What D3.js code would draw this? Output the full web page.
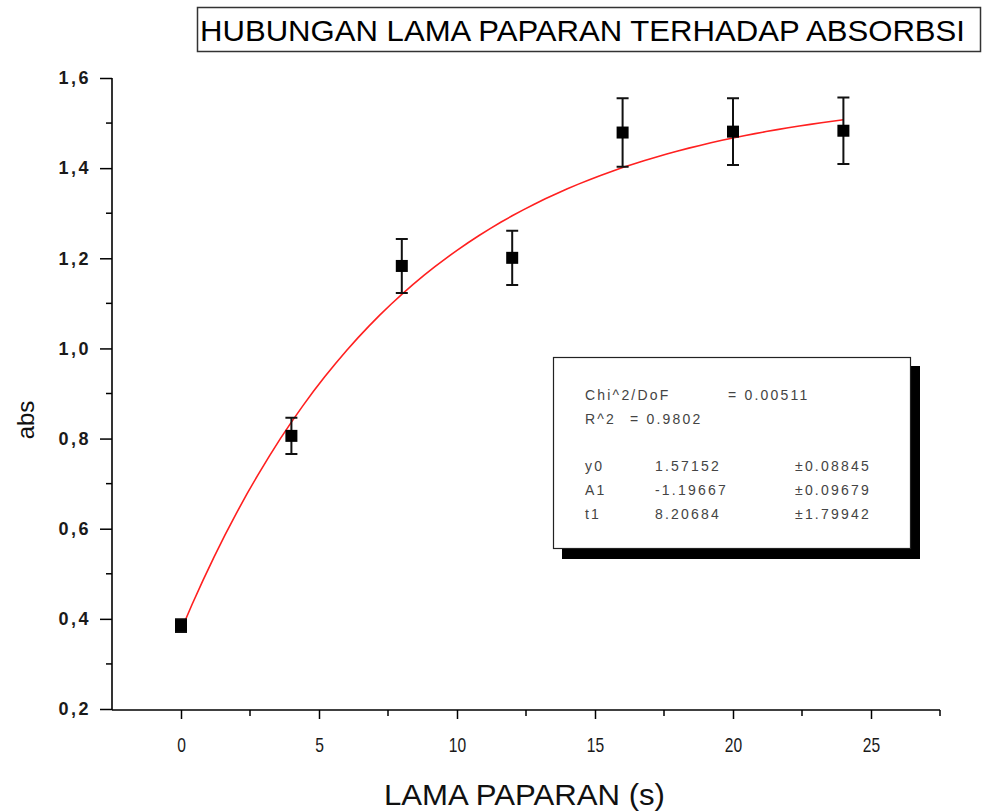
<!DOCTYPE html>
<html><head><meta charset="utf-8">
<script src="https://cdn.jsdelivr.net/npm/d3@7/dist/d3.min.js"></script>
<style>body{margin:0;background:#fff}svg{display:block}</style>
</head><body>
<svg id="c" width="985" height="811"></svg>
<script>
const times = [0, 4, 8, 12, 16, 20, 24];
const absValues = [0.385, 0.806, 1.183, 1.201, 1.479, 1.481, 1.483];
const errValues = [0.014, 0.040, 0.060, 0.060, 0.076, 0.074, 0.074];
const xTicks = [0, 5, 10, 15, 20, 25];
const yTicks = [0.2, 0.4, 0.6, 0.8, 1.0, 1.2, 1.4, 1.6];
const fitParams = {y0: 1.57152, A1: -1.19667, t1: 8.20684};
const statLines = [
  ["Chi^2/DoF", "= 0.00511", ""],
  ["R^2", "=  0.9802", ""],
  ["y0", "1.57152", "\u00b10.08845"],
  ["A1", "-1.19667", "\u00b10.09679"],
  ["t1", "8.20684", "\u00b11.79942"]
];

const FONT = "Liberation Sans, Arial, sans-serif";
const svg = d3.select("#c");
const x = d3.scaleLinear().domain([-2.5, 27.5]).range([112, 940]);
const y = d3.scaleLinear().domain([0.2, 1.6]).range([709, 78]);
const fmt = d => d3.format(".1f")(d).replace(".", ",");

// title box
svg.append("rect").attr("x", 197.5).attr("y", 7.5).attr("width", 783).attr("height", 44)
  .attr("fill", "#fff").attr("stroke", "#333").attr("stroke-width", 1.5);
svg.append("text").attr("x", 200).attr("y", 41).attr("font-family", FONT)
  .attr("font-size", 30).attr("fill", "#000").attr("textLength", 765).attr("lengthAdjust", "spacingAndGlyphs")
  .text("HUBUNGAN LAMA PAPARAN TERHADAP ABSORBSI");

// axes
const xAxis = d3.axisBottom(x).tickValues(xTicks).tickSize(9).tickPadding(19).tickFormat(d3.format("d"));
const gx = svg.append("g").attr("transform", "translate(0,710)").call(xAxis);
gx.select(".domain").attr("d", "M112,0H940").attr("stroke-width", 1.6);
gx.selectAll(".tick line").attr("stroke-width", 1.5);
gx.selectAll("text").attr("font-family", FONT).attr("font-size", 20).attr("fill", "#1a1a1a")
  .attr("transform", "scale(0.78,1)");
const xMinor = d3.range(-2.5, 27.6, 5).filter(v => v > -2.5);
gx.selectAll(".minor").data(xMinor).join("line").attr("x1", d => x(d)).attr("x2", d => x(d))
  .attr("y1", 0).attr("y2", 6).attr("stroke", "#000").attr("stroke-width", 1.5);

const yAxis = d3.axisLeft(y).tickValues(yTicks).tickSize(12).tickPadding(9).tickFormat(fmt);
const gy = svg.append("g").attr("transform", "translate(112,0)").call(yAxis);
gy.select(".domain").attr("d", "M0,78V710").attr("stroke-width", 1.6);
gy.selectAll(".tick line").attr("stroke-width", 1.5);
gy.selectAll("text").attr("font-family", FONT).attr("font-size", 18).attr("fill", "#1a1a1a")
  .attr("letter-spacing", 2.5).attr("font-weight", 600);
const yMinor = d3.range(0.3, 1.6, 0.2);
gy.selectAll(".minor").data(yMinor).join("line").attr("y1", d => y(d)).attr("y2", d => y(d))
  .attr("x1", 0).attr("x2", -6).attr("stroke", "#000").attr("stroke-width", 1.5);

// axis titles
svg.append("text").attr("x", 384).attr("y", 805)
  .attr("font-family", FONT).attr("font-size", 29).attr("fill", "#111")
  .attr("textLength", 281).attr("lengthAdjust", "spacingAndGlyphs")
  .text("LAMA PAPARAN (s)");
svg.append("text").attr("transform", "translate(34,420) rotate(-90)").attr("text-anchor", "middle")
  .attr("font-family", FONT).attr("font-size", 24).attr("fill", "#111")
  .text("abs");

// fit curve
const fitX = d3.range(0, 24.001, 0.4);
const line = d3.line().x(d => x(d)).y(d => y(fitParams.y0 + fitParams.A1 * Math.exp(-d / fitParams.t1)));
svg.append("path").datum(fitX).attr("d", line).attr("fill", "none").attr("stroke", "#ff2020").attr("stroke-width", 1.6);

// error bars and points
const pts = times.map((t, i) => ({t, v: absValues[i], e: errValues[i]}));
const g = svg.append("g");
g.selectAll(".eb").data(pts).join("path")
  .attr("d", d => {
    const cx = x(d.t), y1 = y(d.v + d.e), y2 = y(d.v - d.e);
    return `M${cx - 6},${y1}H${cx + 6}M${cx},${y1}V${y2}M${cx - 6},${y2}H${cx + 6}`;
  })
  .attr("stroke", "#111").attr("stroke-width", 2).attr("fill", "none");
g.selectAll(".pt").data(pts).join("rect")
  .attr("x", d => x(d.t) - 6).attr("y", d => y(d.v) - 6).attr("width", 12).attr("height", 12).attr("fill", "#000");

// stats box
svg.append("rect").attr("x", 562).attr("y", 366).attr("width", 358).attr("height", 193).attr("fill", "#000");
svg.append("rect").attr("x", 553.5).attr("y", 357.5).attr("width", 357).attr("height", 191)
  .attr("fill", "#fff").attr("stroke", "#222").attr("stroke-width", 1.2);
const rowY = [400, 424, 471, 495, 519];
const colX = [585, 655, 795];
statLines.forEach((r, i) => {
  r.forEach((s, j) => {
    if (!s) return;
    let cx = colX[j];
    if (i === 0 && j === 1) cx = 728;
    if (i === 1 && j === 1) cx = 630;
    svg.append("text").attr("x", cx).attr("y", rowY[i])
      .attr("font-family", FONT).attr("font-size", 14)
      .attr("letter-spacing", 2.2).attr("fill", "#444").text(s);
  });
});
</script>
</body></html>
